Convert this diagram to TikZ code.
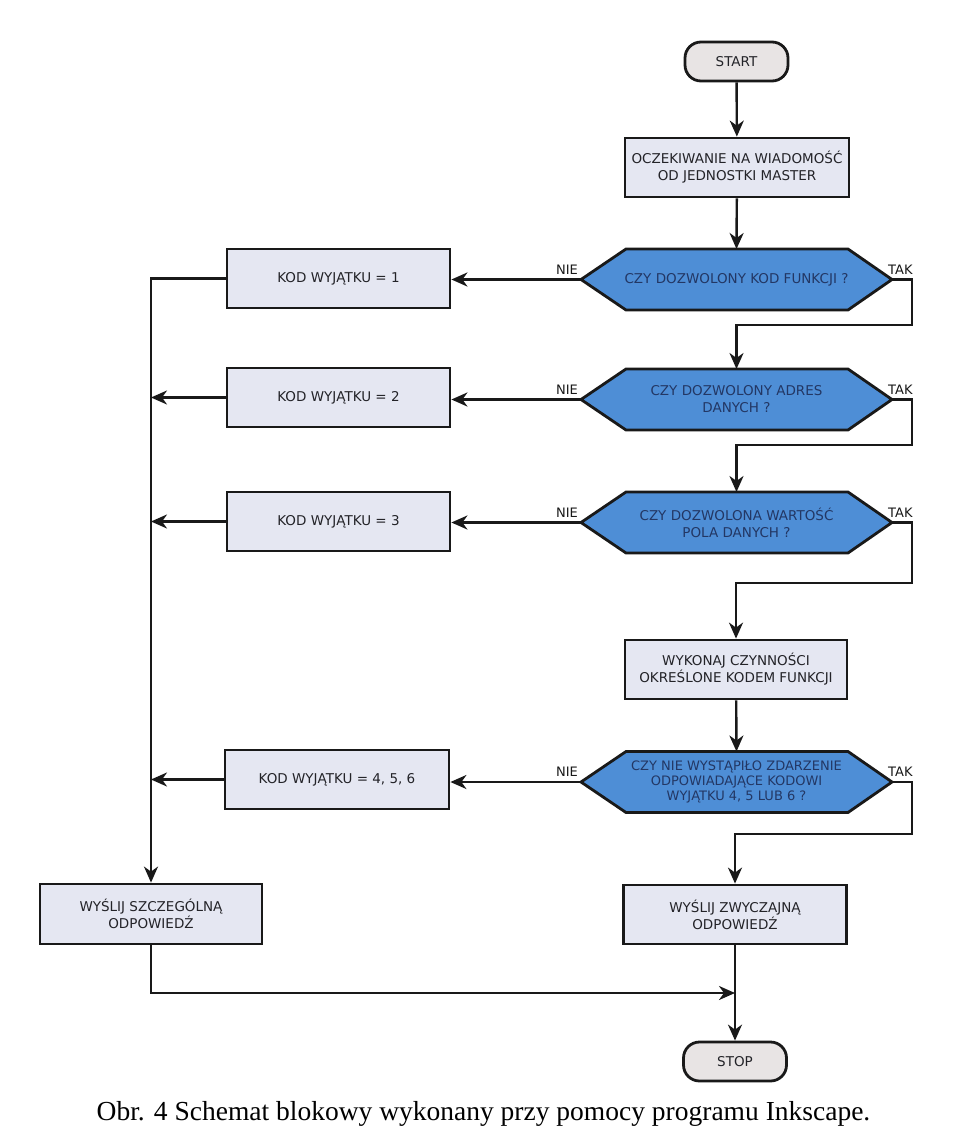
\documentclass[tikz,border=0pt]{standalone}
\usepackage{fontspec}
\setmainfont{DejaVu Sans}
\newfontfamily\capfont{Liberation Serif}
\usetikzlibrary{arrows.meta,calc}
\pgfdeclarelayer{bg}
\pgfsetlayers{bg,main}
\definecolor{boxfill}{RGB}{229,231,242}
\definecolor{termfill}{RGB}{232,228,228}
\definecolor{hexfill}{RGB}{78,142,214}
\definecolor{hextext}{RGB}{35,55,100}
\definecolor{linec}{RGB}{25,25,25}
\definecolor{txt}{RGB}{35,35,40}
\tikzset{
  box/.style={draw=linec, line width=2.8pt, fill=boxfill, minimum width=224pt,
    minimum height=59pt, align=center, text=txt, inner sep=2pt,
    font=\fontsize{13.5}{17}\selectfont},
  termbox/.style={draw=linec, line width=2.8pt, fill=termfill, rounded corners=16pt,
    minimum width=103pt, minimum height=39pt, text=txt,
    font=\fontsize{13.5}{15}\selectfont},
  hexnode/.style={draw=none, minimum width=309pt, minimum height=59pt, align=center,
    text=hextext, inner sep=1pt, outer sep=1pt, font=\fontsize{13.5}{17}\selectfont},
  hexshape/.style={draw=linec, line width=2.8pt, fill=hexfill, line join=miter},
  lbl/.style={inner sep=0pt, text=linec, font=\fontsize{13}{14}\selectfont},
  conn/.style={draw=linec, line width=2.4pt},
  arr/.style={conn, -{Stealth[length=16pt,width=14pt,inset=5pt]}},
}
\newcommand{\hexdraw}[1]{%
  \begin{pgfonlayer}{bg}
  \draw[hexshape] (#1.west) -- ([xshift=45pt]#1.north west) -- ([xshift=-44pt]#1.north east)
    -- (#1.east) -- ([xshift=-44pt]#1.south east) -- ([xshift=45pt]#1.south west) -- cycle;
  \end{pgfonlayer}}
\begin{document}
\begin{tikzpicture}[x=1pt,y=-1pt]
\begin{pgfonlayer}{bg}
\fill[white] (0,0) rectangle (960,1135);
\end{pgfonlayer}
\useasboundingbox (0,0) rectangle (960,1135);

% nodes
\node[termbox] (start) at (736.5,61.5) {START};
\node[box] (b1) at (737,167.5) {OCZEKIWANIE NA WIADOMOŚĆ\\OD JEDNOSTKI MASTER};

\node[hexnode] (h1) at (736.5,279.5) {CZY DOZWOLONY KOD FUNKCJI ?};
\hexdraw{h1}
\node[box, minimum width=223pt] (k1) at (338.5,278.5) {KOD WYJĄTKU = 1};

\node[hexnode] (h2) at (736.5,399.5) {CZY DOZWOLONY ADRES\\DANYCH ?};
\hexdraw{h2}
\node[box, minimum width=223pt] (k2) at (338.5,397.5) {KOD WYJĄTKU = 2};

\node[hexnode] (h3) at (736.5,522.5) {CZY DOZWOLONA WARTOŚĆ\\POLA DANYCH ?};
\hexdraw{h3}
\node[box, minimum width=223pt] (k3) at (338.5,521.5) {KOD WYJĄTKU = 3};

\node[box, minimum width=222pt] (wk) at (736,669.5) {WYKONAJ CZYNNOŚCI\\OKREŚLONE KODEM FUNKCJI};

\node[hexnode, font=\fontsize{13}{15}\selectfont] (h4) at (736.5,782) {CZY NIE WYSTĄPIŁO ZDARZENIE\\ODPOWIADAJĄCE KODOWI\\WYJĄTKU 4, 5 LUB 6 ?};
\hexdraw{h4}
\node[box, minimum width=224pt] (k4) at (337,779.5) {KOD WYJĄTKU = 4, 5, 6};

\node[box, minimum width=223pt] (zw) at (735,914.5) {WYŚLIJ ZWYCZAJNĄ\\ODPOWIEDŹ};
\node[box, minimum width=222pt, minimum height=60pt] (ws) at (151,914) {WYŚLIJ SZCZEGÓLNĄ\\ODPOWIEDŹ};
\node[termbox] (stop) at (735,1061.5) {STOP};

% labels
\node[lbl, anchor=south east] (n1) at ([xshift=-3pt,yshift=5pt]h1.west) {NIE};
\node[lbl, anchor=south west] (t1) at ([xshift=-4pt,yshift=5pt]h1.east) {TAK};
\node[lbl, anchor=south east] (n2) at ([xshift=-3pt,yshift=5pt]h2.west) {NIE};
\node[lbl, anchor=south west] (t2) at ([xshift=-4pt,yshift=5pt]h2.east) {TAK};
\node[lbl, anchor=south east] (n3) at ([xshift=-3pt,yshift=5pt]h3.west) {NIE};
\node[lbl, anchor=south west] (t3) at ([xshift=-4pt,yshift=5pt]h3.east) {TAK};
\node[lbl, anchor=south east] (n4) at ([xshift=-3pt,yshift=5pt]h4.west) {NIE};
\node[lbl, anchor=south west] (t4) at ([xshift=-4pt,yshift=5pt]h4.east) {TAK};

% turn coordinates
\coordinate (c1) at (912,325);
\coordinate (c2) at (912,445);
\coordinate (c3) at (912,583);
\coordinate (c4) at (912,834);
\coordinate (m) at (735,993);

% connectors
\draw[arr] (start) -- (b1);
\draw[arr] (b1) -- (h1.north);
\draw[arr] (h1.west) -- (h1.west -| k1.east);
\draw[arr] (h1.east) -| (c1) -| (h2.north);
\draw[arr] (h2.west) -- (h2.west -| k2.east);
\draw[arr] (h2.east) -| (c2) -| (h3.north);
\draw[arr] (h3.west) -- (h3.west -| k3.east);
\draw[arr] (h3.east) -| (c3) -| (wk.north);
\draw[arr] (wk) -- (h4.north);
\draw[arr] (h4.west) -- (h4.west -| k4.east);
\draw[arr] (h4.east) -| (c4) -| (zw.north);
\draw[arr] (k1.west) -| (ws.north);
\draw[arr] (k2.west) -- (k2.west -| ws.north);
\draw[arr] (k3.west) -- (k3.west -| ws.north);
\draw[arr] (k4.west) -- (k4.west -| ws.north);
\draw[arr] (zw) -- (stop);
\draw[arr] (ws.south) |- (m);

% caption
\node[anchor=base, inner sep=0pt, font=\capfont\fontsize{27.5}{30}\selectfont] (cap) at (483.5,1120) {Obr. 4 Schemat blokowy wykonany przy pomocy programu Inkscape.};
\end{tikzpicture}
\end{document}
